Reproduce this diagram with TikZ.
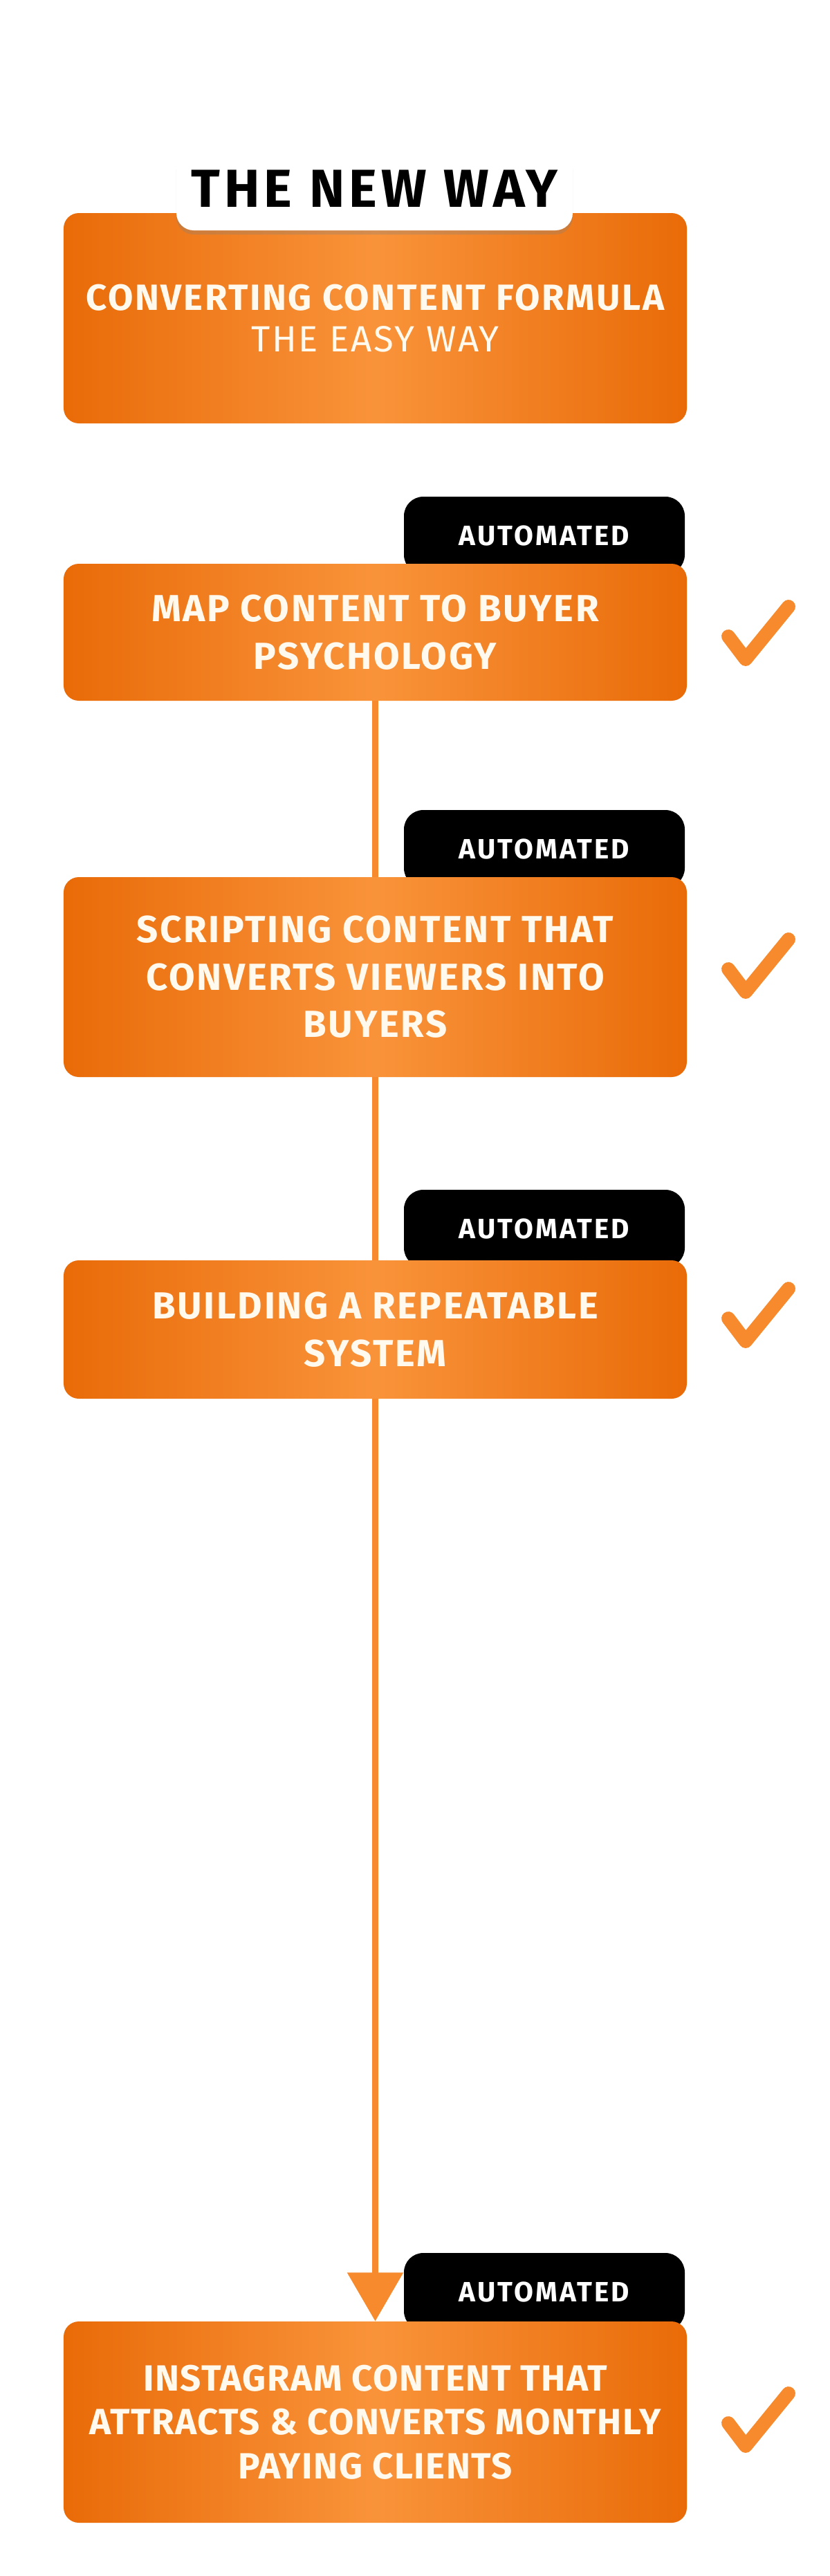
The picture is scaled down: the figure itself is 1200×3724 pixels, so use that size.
\documentclass[tikz,border=0pt]{standalone}
\usepackage{fontspec}
\setmainfont{Fira Sans}
\usetikzlibrary{arrows.meta,shadows}
\definecolor{orDark}{HTML}{E96B08}
\definecolor{orLight}{HTML}{F9933A}
\definecolor{orLine}{HTML}{F78A2C}
\definecolor{cream}{HTML}{FFF9EE}
\tikzset{
  stepbox/.style={rounded corners=4.4mm, left color=orDark, right color=orDark, middle color=orLight,
    minimum width=180.2mm, inner sep=0pt, align=center, text=cream,
    font=\bfseries\fontsize{31}{39}\selectfont\addfontfeature{LetterSpace=5}},
  autotab/.style={fill=black, rounded corners=5.6mm, minimum width=81.2mm, minimum height=22.4mm,
    inner sep=0pt, text=white, font=\bfseries\fontsize{23}{26}\selectfont\addfontfeature{LetterSpace=8}},
  newtab/.style={fill=white, rounded corners=5mm, minimum width=114.6mm, minimum height=24mm,
    inner sep=0pt, drop shadow={shadow xshift=0pt, shadow yshift=-1.2mm, opacity=.3},
    font=\bfseries\fontsize{44}{48}\selectfont\addfontfeature{LetterSpace=8}},
  connector/.style={draw=orLine, line width=5pt},
  tick/.pic={\draw[orLine, line width=11.3pt, line cap=round, line join=round] (-42,5) -- (-17,38) -- (45,-38);}
}
\begin{document}
\begin{tikzpicture}[x=0.2mm,y=-0.2mm]
\fill[white] (0,0) rectangle (1200,3724);
\useasboundingbox (0,0) rectangle (1200,3724);

% header
\node[stepbox, minimum height=60.8mm, font=\bfseries\fontsize{30}{36}\selectfont\addfontfeature{LetterSpace=5}] (b1) at (542.5,460)
  {CONVERTING CONTENT FORMULA\\[-2pt]{\mdseries THE EASY WAY}};
\node[newtab] (nw) at (541.5,273) {THE NEW WAY};

% tabs behind the steps
\node[autotab] (t2) at (787,774) {AUTOMATED};
\node[autotab] (t3) at (787,1227) {AUTOMATED};
\node[autotab] (t4) at (787,1776) {AUTOMATED};
\node[autotab] (t5) at (787,3313) {AUTOMATED};

% steps
\node[stepbox, minimum height=39.6mm] (b2) at (542.5,914) {MAP CONTENT TO BUYER\\PSYCHOLOGY};
\node[stepbox, minimum height=57.8mm] (b3) at (542.5,1412.5) {SCRIPTING CONTENT THAT\\CONVERTS VIEWERS INTO\\BUYERS};
\node[stepbox, minimum height=40mm] (b4) at (542.5,1922) {BUILDING A REPEATABLE\\SYSTEM};
\node[stepbox, minimum height=58.2mm, font=\bfseries\fontsize{30}{36}\selectfont\addfontfeature{LetterSpace=3}] (b5) at (542.5,3501.5)
  {INSTAGRAM CONTENT THAT\\ATTRACTS \& CONVERTS MONTHLY\\PAYING CLIENTS};

\draw[connector] (b2.south) -- (b3.north);
\draw[connector] (b3.south) -- (b4.north);
\draw[connector, -{Triangle[width=45pt,length=40pt]}] (b4.south) -- (b5.north);

% ticks
\pic at (1095,915) {tick};
\pic at (1095,1396) {tick};
\pic at (1095,1901) {tick};
\pic at (1095,3498) {tick};
\end{tikzpicture}
\end{document}
